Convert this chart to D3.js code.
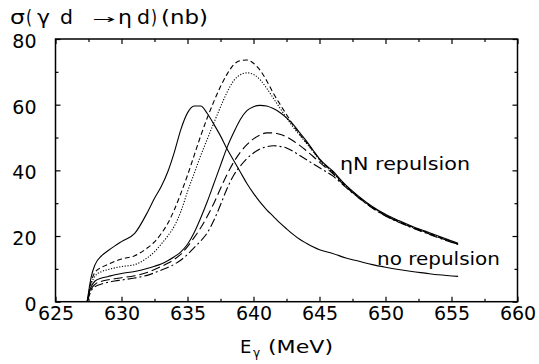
<!DOCTYPE html>
<html lang="en">
<head>
  <meta charset="UTF-8">
  <title>eta d photoproduction cross section</title>
  <script src="https://d3js.org/d3.v7.min.js"></script>
  <style>
    body {
      margin: 0;
      background: #fff;
      overflow: hidden;
    }
    svg {
      display: block;
    }
    text {
      font-family: "DejaVu Sans", sans-serif;
      fill: #000;
    }
  </style>
</head>
<body>
  <svg id="chart"></svg>

  <script>
    // Canvas size
    const width = 539;
    const height = 364;
    const margin = { top: 39, right: 21.5, bottom: 62.3, left: 55.5 };

    // Photon energies (MeV) shared by all curves
    const energies = [627.4, 627.7, 628, 628.5, 629, 629.5, 630, 631, 632, 632.5,
                      633, 633.5, 634, 634.5, 635, 635.5, 636, 636.5, 637, 637.5,
                      638, 638.5, 639, 639.5, 640, 640.5, 641, 641.5, 642, 642.5,
                      643, 643.5, 644, 644.5, 645, 646, 647, 648, 649, 650,
                      651, 652, 653, 654, 655.5];

    // Cross sections (nb)
    const noRepulsion = [0, 7.5, 11.3, 14, 15.6, 17, 18.3, 20.8, 27.5, 31.5,
                         35, 39.5, 45.5, 52.5, 57.5, 59.6, 59.6, 57.3, 54, 50.5,
                         46.5, 43, 39.5, 36, 33, 30.3, 28, 26, 24, 22.2,
                         20.5, 19, 17.8, 16.7, 15.8, 14.7, 13.3, 12.3, 11.3, 10.5,
                         9.8, 9.2, 8.7, 8.2, 7.7];
    const repulsionSolid = [0, 4.5, 6.3, 7.2, 7.7, 8.2, 8.6, 9.2, 10.2, 10.8,
                            11.5, 12.5, 13.7, 15.2, 17.5, 21, 25.5, 30.5, 36, 41.5,
                            47, 51.5, 55.5, 58.2, 59.4, 59.8, 59.6, 58.8, 57.6, 56,
                            54, 51.5, 49, 46.2, 43.5, 39.8, 35.5, 32, 29, 26.6,
                            24.7, 23, 21.5, 20, 17.8];
    const repulsionDashed = [0, 6, 9, 10.5, 11.4, 12.3, 13, 14, 16.5, 18.2,
                             20.7, 23.8, 28, 33, 38.5, 44.5, 50.5, 56, 61, 65.5,
                             69.3, 72.2, 73.4, 73.6, 72.6, 70.5, 67.3, 63.5, 60.2, 57,
                             53.8, 51, 48.5, 46, 43.3, 39.5, 35.3, 31.8, 28.8, 26.4,
                             24.5, 22.8, 21.3, 19.8, 17.6];
    const repulsionDotted = [0, 5.3, 7.8, 9.2, 9.8, 10.3, 10.7, 11.3, 13.5, 15.2,
                             17.5, 20, 23, 27.5, 33.5, 39, 44.5, 49.5, 54.5, 59.3,
                             63.8, 67.3, 69.1, 69.7, 69.2, 67.6, 65, 62, 59, 56,
                             53.2, 50.7, 48.3, 45.8, 43.2, 39.3, 35.2, 31.7, 28.7, 26.3,
                             24.4, 22.7, 21.2, 19.7, 17.6];
    const repulsionLongDash = [0, 3.8, 5.3, 6.2, 6.7, 7, 7.3, 7.9, 9, 9.8,
                               10.7, 11.7, 12.9, 14.5, 16.8, 19.5, 22.5, 26, 30, 34.5,
                               38.8, 42.5, 45.5, 47.8, 49.6, 50.8, 51.4, 51.4, 51, 50.2,
                               49, 47.6, 46, 44.3, 42.5, 39, 35, 31.6, 28.6, 26.2,
                               24.3, 22.6, 21.1, 19.6, 17.5];
    const repulsionDashDot = [0, 3.3, 4.6, 5.4, 5.9, 6.3, 6.6, 7.2, 8.1, 8.8,
                              9.6, 10.4, 11.4, 12.7, 14.4, 16.5, 18.5, 21, 24.8, 29.5,
                              34.5, 38.5, 41.3, 43.6, 45.3, 46.5, 47.2, 47.5, 47.3, 46.8,
                              45.8, 44.5, 43.3, 42, 40.8, 38.3, 34.8, 31.5, 28.5, 26.1,
                              24.2, 22.5, 21, 19.5, 17.4];

    // Axis ticks
    const xMajorTicks = [625, 630, 635, 640, 645, 650, 655, 660];
    const xMinorTicks = [627.5, 632.5, 637.5, 642.5, 647.5, 652.5, 657.5];
    const yMajorTicks = [0, 20, 40, 60, 80];
    const yMinorTicks = [10, 30, 50, 70];

    const curves = [
      { values: noRepulsion, dash: null },
      { values: repulsionSolid, dash: null },
      { values: repulsionDashed, dash: "5,3" },
      { values: repulsionDotted, dash: "1.2,1.6" },
      { values: repulsionLongDash, dash: "9,4" },
      { values: repulsionDashDot, dash: "9,3,2,3" }
    ];

    const svg = d3.select("#chart")
                  .attr("width", width)
                  .attr("height", height);

    const x = d3.scaleLinear().domain([625, 660]).range([margin.left, width - margin.right]);
    const y = d3.scaleLinear().domain([0, 80]).range([height - margin.bottom, margin.top]);

    // Curves
    const line = d3.line()
                   .x(d => x(d[0]))
                   .y(d => y(d[1]))
                   .curve(d3.curveMonotoneX);

    svg.append("g")
       .selectAll("path")
       .data(curves)
       .join("path")
       .attr("d", c => line(energies.map((e, i) => [e, c.values[i]])))
       .attr("fill", "none")
       .attr("stroke", "#000")
       .attr("stroke-width", 1.1)
       .attr("stroke-dasharray", c => c.dash);

    // Axes, ticks pointing inward on all four sides
    function styleAxis(g) {
      g.select(".domain").remove();
      g.selectAll("line").attr("stroke", "#000").attr("stroke-width", 1.2);
    }

    svg.append("g")
       .attr("transform", `translate(0,${y(0)})`)
       .call(d3.axisBottom(x).tickValues(xMajorTicks).tickSize(-5).tickSizeOuter(0).tickPadding(5)
             .tickFormat(d3.format("d")))
       .call(styleAxis)
       .call(g => g.selectAll("text").attr("font-size", 19).attr("font-family", "DejaVu Sans").attr("fill", "#000"));
    svg.append("g")
       .attr("transform", `translate(0,${y(0)})`)
       .call(d3.axisBottom(x).tickValues(xMinorTicks).tickSize(-3).tickFormat(""))
       .call(styleAxis);
    svg.append("g")
       .attr("transform", `translate(0,${y(80)})`)
       .call(d3.axisTop(x).tickValues(xMajorTicks).tickSize(-5).tickFormat(""))
       .call(styleAxis);
    svg.append("g")
       .attr("transform", `translate(0,${y(80)})`)
       .call(d3.axisTop(x).tickValues(xMinorTicks).tickSize(-3).tickFormat(""))
       .call(styleAxis);

    svg.append("g")
       .attr("transform", `translate(${x(625)},0)`)
       .call(d3.axisLeft(y).tickValues(yMajorTicks).tickSize(-5).tickPadding(19))
       .call(styleAxis)
       .call(g => g.selectAll("text").attr("font-size", 19).attr("font-family", "DejaVu Sans")
                   .attr("fill", "#000").attr("dy", "0.45em"));
    svg.append("g")
       .attr("transform", `translate(${x(625)},0)`)
       .call(d3.axisLeft(y).tickValues(yMinorTicks).tickSize(-3).tickFormat(""))
       .call(styleAxis);
    svg.append("g")
       .attr("transform", `translate(${x(660)},0)`)
       .call(d3.axisRight(y).tickValues(yMajorTicks).tickSize(-5).tickFormat(""))
       .call(styleAxis);
    svg.append("g")
       .attr("transform", `translate(${x(660)},0)`)
       .call(d3.axisRight(y).tickValues(yMinorTicks).tickSize(-3).tickFormat(""))
       .call(styleAxis);

    // Frame
    svg.append("rect")
       .attr("x", x(625))
       .attr("y", y(80))
       .attr("width", x(660) - x(625))
       .attr("height", y(0) - y(80))
       .attr("fill", "none")
       .attr("stroke", "#000")
       .attr("stroke-width", 1.5);

    // Title (y axis quantity), pieces stretched to the widths in the figure
    const titlePieces = [
      { t: "σ", x: 10, w: 15 },
      { t: "(", x: 26, w: 6 },
      { t: "γ", x: 37, w: 13 },
      { t: "d", x: 60, w: 13 },
      { t: "→", x: 92, w: 23, small: true },
      { t: "η", x: 118, w: 14 },
      { t: "d", x: 137, w: 13 },
      { t: ")", x: 151, w: 6 },
      { t: "(nb)", x: 161, w: 47 }
    ];
    svg.append("g")
       .selectAll("text")
       .data(titlePieces)
       .join("text")
       .attr("x", d => d.x)
       .attr("y", d => d.small ? 23 : 24)
       .attr("font-size", d => d.small ? 12 : 19)
       .attr("textLength", d => d.w)
       .attr("lengthAdjust", "spacingAndGlyphs")
       .text(d => d.t);

    // x axis title
    const xTitle = svg.append("text").attr("y", 353).attr("font-size", 18);
    xTitle.append("tspan").attr("x", 240).text("E");
    xTitle.append("tspan").attr("x", 253).attr("dy", 4).attr("font-size", 12).text("γ");
    xTitle.append("tspan").attr("x", 268).attr("dy", -4).attr("textLength", 65)
          .attr("lengthAdjust", "spacingAndGlyphs").text("(MeV)");

    // Curve annotations
    svg.append("text").attr("x", 340).attr("y", 170).attr("font-size", 18)
       .attr("textLength", 130).attr("lengthAdjust", "spacingAndGlyphs").text("ηN repulsion");
    svg.append("text").attr("x", 377).attr("y", 265).attr("font-size", 18)
       .attr("textLength", 123).attr("lengthAdjust", "spacingAndGlyphs").text("no repulsion");
  </script>
</body>
</html>
